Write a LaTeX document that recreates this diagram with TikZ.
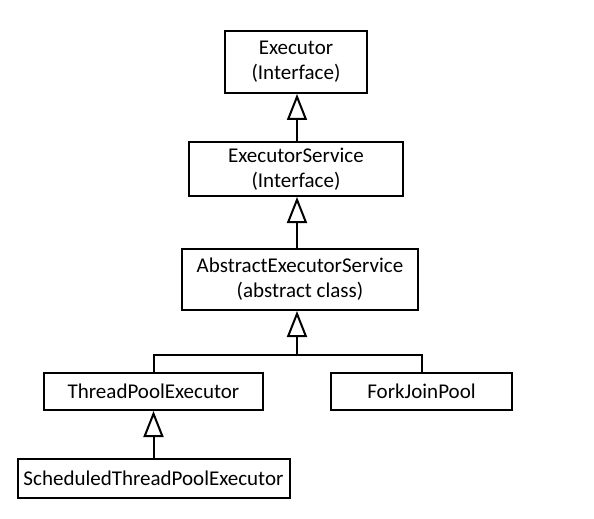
\documentclass[tikz,border=0pt]{standalone}
\usepackage{fontspec}
\setmainfont{Carlito}
\usepackage{tikz}
\usetikzlibrary{arrows.meta,calc,positioning}

\begin{document}
\begin{tikzpicture}[x=0.5pt,y=-0.5pt,line cap=rect]
  % Styles
  \tikzstyle{classbox}=[draw,line width=1pt,align=center,inner sep=0pt,font=\fontsize{10.5}{12.5}\selectfont]
  \tikzstyle{inherit}=[line width=1pt,-{Triangle[open,length=13pt,width=10pt,line width=1pt]}]

  % Frame
  \useasboundingbox (0,0) rectangle (594,519);

  % Classes
  \node[classbox,minimum width=71pt,minimum height=31pt] (exec) at (296,62) {Executor\\(Interface)};
  \node[classbox,minimum width=107pt,minimum height=27pt] (service) at (296,169) {ExecutorService\\(Interface)};
  \node[classbox,minimum width=118pt,minimum height=30.5pt] (abstract) at (300,279.5) {AbstractExecutorService\\(abstract class)};
  \node[classbox,minimum width=109.5pt,minimum height=18.5pt] (pool) at (153.5,391.5) {ThreadPoolExecutor};
  \node[classbox,minimum width=90.5pt,minimum height=18.5pt] (fork) at (421.5,391.5) {ForkJoinPool};
  \node[classbox,minimum width=136pt,minimum height=19.5pt] (sched) at (153.5,478.5) {ScheduledThreadPoolExecutor};

  % Lines
  \coordinate (split) at (297,355);
  \draw[inherit] (service.north -| split) -- (exec.south -| split);
  \draw[inherit] (abstract.north -| split) -- (service.south -| split);
  \draw[inherit] (split) -- (split |- abstract.south);
  \draw[line width=1pt] (pool.north) |- (split) -| (fork.north);
  \draw[inherit] (sched.north) -- (pool.south);

\end{tikzpicture}
\end{document}
